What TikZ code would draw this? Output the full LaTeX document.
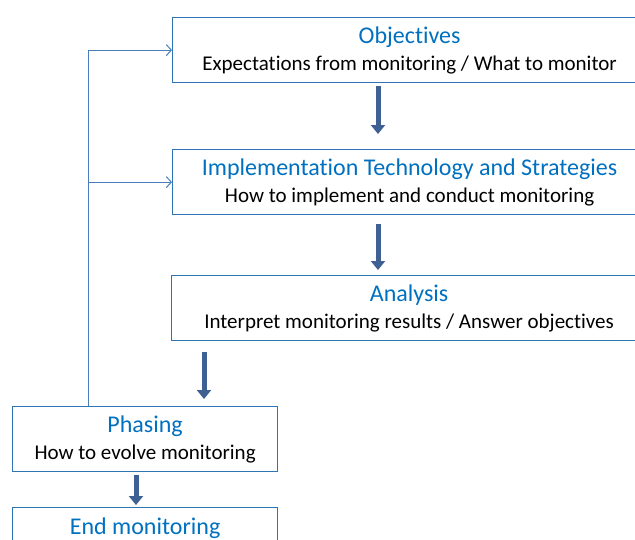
\documentclass[tikz,border=0pt]{standalone}
\usepackage{fontspec}
\setmainfont[RawFeature={-liga;-clig}]{Carlito}
\usetikzlibrary{arrows.meta}
\definecolor{boxblue}{RGB}{46,117,182}
\definecolor{titleblue}{RGB}{0,112,192}
\definecolor{thinblue}{RGB}{74,126,187}
\definecolor{arrowblue}{RGB}{62,96,146}
\tikzset{
  box/.style={draw=boxblue, line width=1.2pt, anchor=north west, inner sep=0pt,
    minimum height=65pt, align=center, text=black,
    font=\fontsize{21}{27}\selectfont},
  bigarrow/.style={draw=arrowblue, line width=5pt,
    -{Triangle[width=14pt,length=9pt]}},
  fback/.style={draw=thinblue, line width=1pt,
    -{Straight Barb[length=5pt,width=11pt,line width=1pt]}},
}
\newcommand{\ttlx}[1]{{\fontsize{24}{27}\selectfont\color{titleblue}#1}}
\begin{document}
\begin{tikzpicture}[x=1pt,y=1pt]
\path[use as bounding box] (0,0) rectangle (635,-539);
\clip (0,0) rectangle (635,-539);
\node[box, minimum width=474pt] (obj) at (172,-17)
  {\ttlx{Objectives}\\Expectations from monitoring / What to monitor};
\node[box, minimum width=474pt] (impl) at (172,-149)
  {\ttlx{Implementation Technology and Strategies}\\How to implement and conduct monitoring};
\node[box, minimum width=475pt] (ana) at (171,-275)
  {\ttlx{Analysis}\\Interpret monitoring results / Answer objectives};
\node[box, minimum width=265pt] (phase) at (12,-406)
  {\ttlx{Phasing}\\How to evolve monitoring};
\node[box, minimum width=265pt] (endm) at (12,-507)
  {\ttlx{End monitoring}\\\mbox{}};
\draw[bigarrow] ([xshift=206pt,yshift=-3pt]obj.south west) -- ([xshift=206pt,yshift=15pt]impl.north west);
\draw[bigarrow] ([xshift=206pt,yshift=-9pt]impl.south west) -- ([xshift=207pt,yshift=5pt]ana.north west);
\draw[bigarrow] ([xshift=33pt,yshift=-11pt]ana.south west) -- ([xshift=192pt,yshift=7pt]phase.north west);
\draw[bigarrow] ([xshift=124pt,yshift=-3pt]phase.south west) -- ([xshift=124pt,yshift=2pt]endm.north west);
\coordinate (fb) at ([xshift=76pt]phase.north west);
\draw[fback] (fb) |- (obj.west);
\draw[fback] (fb |- impl.west) -- (impl.west);
\end{tikzpicture}
\end{document}
